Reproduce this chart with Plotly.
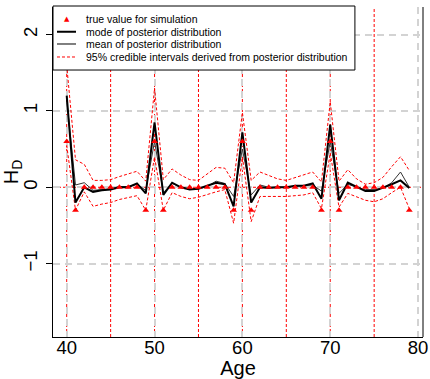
import plotly.graph_objects as go

ages = list(range(40, 80))
true_vals = [0.6, -0.3, 0, 0, 0, 0, 0, 0, 0, -0.3,
             0.6, -0.3, 0, 0, 0, 0, 0, 0, 0, -0.3,
             0.6, -0.3, 0, 0, 0, 0, 0, 0, 0, -0.3,
             0.6, -0.3, 0, 0, 0, 0, 0, 0, 0, -0.3]
mode_vals = [1.2, -0.2, 0.0, -0.06, -0.04, -0.03, 0.0, 0.0, 0.05, -0.08,
             0.85, -0.1, 0.06, 0.0, -0.03, -0.02, 0.02, 0.06, 0.04, -0.25,
             0.72, -0.2, 0.0, -0.01, 0.0, 0.0, 0.02, 0.02, 0.05, -0.15,
             0.82, -0.17, 0.06, 0.0, -0.05, -0.05, -0.01, 0.04, 0.09, -0.01]
mean_vals = [1.15, 0.03, 0.06, -0.04, -0.03, -0.02, 0.01, 0.01, 0.04, -0.04,
             0.6, -0.07, 0.05, 0.0, -0.02, -0.02, 0.01, 0.08, 0.05, -0.12,
             0.5, -0.1, 0.03, 0.0, 0.0, 0.0, 0.01, 0.02, 0.03, -0.05,
             0.6, -0.08, 0.04, 0.0, -0.03, -0.03, -0.01, 0.06, 0.2, 0.0]
upper_vals = [1.6, 0.36, 0.3, 0.09, 0.09, 0.1, 0.14, 0.17, 0.21, 0.08,
              1.3, 0.1, 0.24, 0.16, 0.1, 0.09, 0.17, 0.26, 0.25, 0.06,
              0.98, 0.09, 0.2, 0.15, 0.11, 0.09, 0.13, 0.16, 0.2, 0.07,
              1.12, 0.08, 0.23, 0.11, 0.04, 0.06, 0.13, 0.27, 0.4, 0.22]
lower_vals = [0.55, -0.3, -0.06, -0.25, -0.22, -0.2, -0.16, -0.14, -0.11, -0.3,
              0.4, -0.3, -0.07, -0.12, -0.15, -0.13, -0.09, -0.06, -0.03, -0.47,
              0.4, -0.45, -0.12, -0.12, -0.12, -0.12, -0.11, -0.1, -0.07, -0.28,
              0.45, -0.26, -0.08, -0.12, -0.17, -0.19, -0.15, -0.07, 0.0, -0.28]
ref_vlines = [40, 45, 50, 55, 60, 65, 70, 75]
ref_hline = 0
x_ticks = [40, 50, 60, 70, 80]
y_ticks = [-1, 0, 1, 2]
legend_labels = ["true value for simulation",
                 "mode of posterior distribution",
                 "mean of posterior distribution",
                 "95% credible intervals derived from posterior distribution"]

FONT = "Liberation Sans, Arial, Helvetica, sans-serif"
RED_DOT = "3px,2px"

fig = go.Figure()
fig.add_trace(go.Scatter(x=ages, y=upper_vals, mode="lines",
                         line=dict(color="red", width=1, dash=RED_DOT), showlegend=False))
fig.add_trace(go.Scatter(x=ages, y=lower_vals, mode="lines",
                         line=dict(color="red", width=1, dash=RED_DOT), showlegend=False))
fig.add_trace(go.Scatter(x=ages, y=mean_vals, mode="lines",
                         line=dict(color="#333333", width=1), showlegend=False))
fig.add_trace(go.Scatter(x=ages, y=mode_vals, mode="lines",
                         line=dict(color="black", width=2), showlegend=False))
fig.add_trace(go.Scatter(x=ages, y=true_vals, mode="markers",
                         marker=dict(symbol="triangle-up", color="red", size=6, line=dict(width=0)),
                         showlegend=False))

for v in ref_vlines:
    fig.add_vline(x=v, line=dict(color="red", width=1, dash=RED_DOT), layer="below")
fig.add_hline(y=ref_hline, line=dict(color="red", width=1, dash=RED_DOT), layer="below")

# right frame line
fig.add_shape(type="line", xref="paper", yref="paper", x0=1, x1=1, y0=0, y1=1,
              line=dict(color="black", width=1), layer="above")

# manual legend
lx0, lx1, ly0, ly1 = 0.0, 0.816, 0.809, 1.003
fig.add_shape(type="rect", xref="paper", yref="paper", x0=lx0, x1=lx1, y0=ly0, y1=ly1,
              fillcolor="white", line=dict(color="black", width=1), layer="above")
row_y = [0.9627, 0.925, 0.8879, 0.8485]
sym_x0, sym_x1, txt_x = 0.0108, 0.0622, 0.0865
for lab, yy in zip(legend_labels, row_y):
    fig.add_annotation(x=txt_x, y=yy, xref="paper", yref="paper", text=lab, showarrow=False,
                       xanchor="left", yanchor="middle", borderpad=0,
                       font=dict(family=FONT, size=10.5, color="black"))
fig.add_annotation(x=(sym_x0 + sym_x1) / 2, y=row_y[0], xref="paper", yref="paper", text="▲",
                   showarrow=False, xanchor="center", yanchor="middle",
                   font=dict(family="DejaVu Sans", size=7, color="red"))
legend_styles = [None, dict(color="black", width=2), dict(color="#555555", width=1.5),
                 dict(color="red", width=1, dash=RED_DOT)]
for st, yy in zip(legend_styles, row_y):
    if st is None:
        continue
    fig.add_shape(type="line", xref="paper", yref="paper", x0=sym_x0, x1=sym_x1, y0=yy, y1=yy,
                  line=st, layer="above")

fig.update_layout(
    width=430, height=379,
    margin=dict(l=53, r=7, t=7, b=42, autoexpand=False),
    paper_bgcolor="white", plot_bgcolor="white",
    font=dict(family=FONT, color="black"),
    showlegend=False,
)
fig.update_xaxes(range=[38.44, 80.56], tickvals=x_ticks, ticks="", showline=True,
                 linecolor="black", linewidth=1, showgrid=True, gridcolor="#d3d3d3",
                 griddash="7px,5px", gridwidth=1.5, zeroline=False, automargin=False,
                 ticklabelstandoff=-6,
                 tickfont=dict(size=18.5), title=dict(text="Age", font=dict(size=20), standoff=3))
fig.update_yaxes(range=[-1.96, 2.36], tickvals=y_ticks, ticks="outside", ticklen=6,
                 tickcolor="black", tickangle=-90, showline=True, linecolor="black", linewidth=1,
                 showgrid=True, gridcolor="#d3d3d3", griddash="7px,5px", gridwidth=1.5,
                 zeroline=False, automargin=False, tickfont=dict(size=18.5), ticklabelstandoff=2,
                 title=dict(text="H<sub>D</sub>", font=dict(size=20), standoff=4))

fig.write_html("out.html")
